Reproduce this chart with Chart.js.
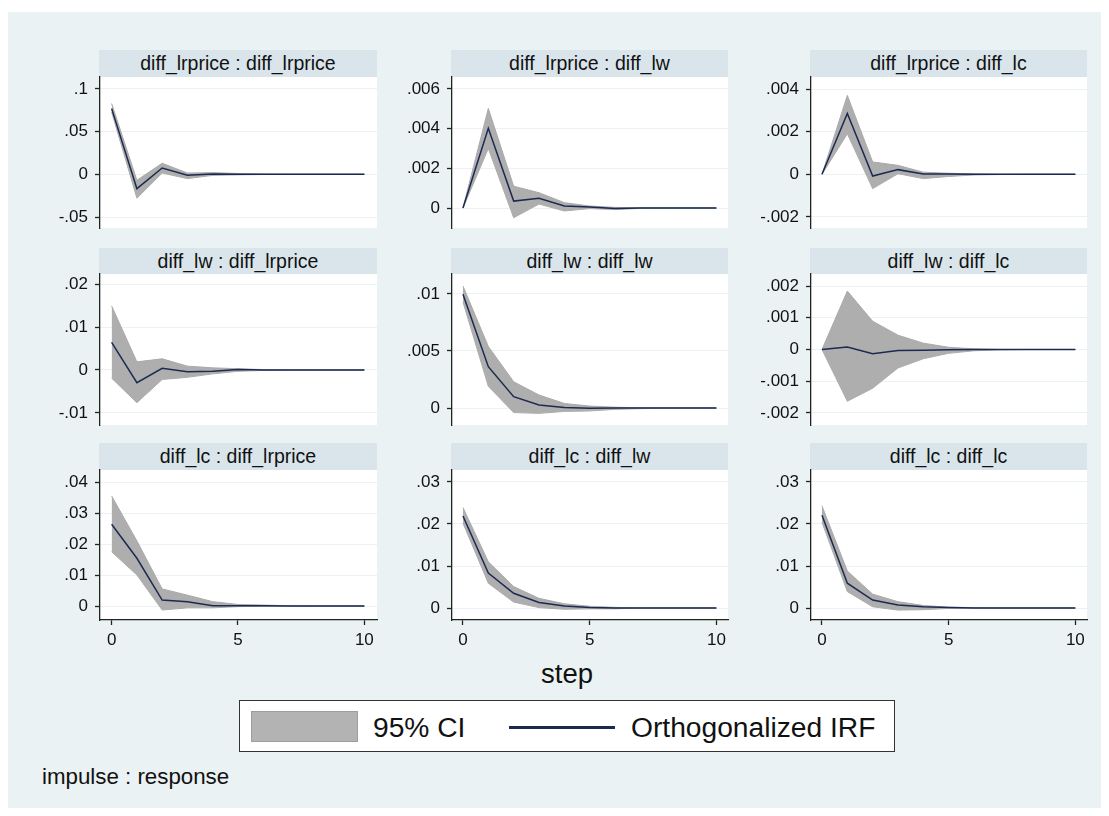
<!DOCTYPE html>
<html><head><meta charset="utf-8">
<script src="https://cdn.jsdelivr.net/npm/chart.js@4.4.1/dist/chart.umd.min.js"></script>
<style>
html,body{margin:0;padding:0;background:#fff;}
body{width:1109px;height:816px;position:relative;overflow:hidden;font-family:"Liberation Sans",Arial,sans-serif;color:#111;}
#bg{position:absolute;left:8px;top:12px;width:1093px;height:796px;background:#EAF2F3;}
.strip{position:absolute;background:#D9E5EA;color:#111;font-size:19.5px;text-align:center;white-space:nowrap;}
canvas{position:absolute;}
.txt{position:absolute;white-space:nowrap;}
#legend{position:absolute;left:239px;top:700px;width:654px;height:50px;background:#fff;border:1.5px solid #333;}
#swatch{position:absolute;left:251px;top:711px;width:105px;height:29px;background:#B3B3B3;border:1.5px solid #9E9E9E;}
#lline{position:absolute;left:509px;top:726px;width:106px;height:2.5px;background:#1B2A50;}
</style>
</head><body>
<div id="bg"></div>
<div id="legend"></div>
<div id="swatch"></div>
<div class="txt" style="left:373px;top:711px;font-size:28.2px;line-height:32px;">95% CI</div>
<div id="lline"></div>
<div class="txt" style="left:631px;top:711px;font-size:28.2px;line-height:32px;">Orthogonalized IRF</div>
<div class="txt" style="left:467px;width:200px;text-align:center;top:658px;font-size:27.5px;line-height:31px;">step</div>
<div class="txt" style="left:42px;top:764px;font-size:22.3px;line-height:25px;">impulse : response</div>
<script>
// ---------------- data ----------------
const steps = [0,1,2,3,4,5,6,7,8,9,10];
const titles = [
  "diff_lrprice : diff_lrprice", "diff_lrprice : diff_lw", "diff_lrprice : diff_lc",
  "diff_lw : diff_lrprice", "diff_lw : diff_lw", "diff_lw : diff_lc",
  "diff_lc : diff_lrprice", "diff_lc : diff_lw", "diff_lc : diff_lc"
];
const xTicks = [0,5,10];

const irf1 = [0.077, -0.0168, 0.0074, -0.001, 0.0005, 0.0002, 0.0001, 0, 0, 0, 0];
const lo1  = [0.073, -0.028, 0.0015, -0.005, -0.0012, -0.0006, -0.0002, 0, 0, 0, 0];
const hi1  = [0.083, -0.007, 0.013, 0.0015, 0.002, 0.0010, 0.0003, 0, 0, 0, 0];

const irf2 = [0, 0.00402, 0.00035, 0.00049, 0.0001, 0.00005, -0.00002, 0, 0, 0, 0];
const lo2  = [0, 0.0030, -0.00049, 0.0002, -0.00015, -0.00003, -0.00008, -0.00002, 0, 0, 0];
const hi2  = [0, 0.00502, 0.0011, 0.00077, 0.00027, 0.0001, 0.00003, 0.00001, 0, 0, 0];

const irf3 = [0, 0.00285, -0.00008, 0.00022, 0.00002, 0.00001, 0, 0, 0, 0, 0];
const lo3  = [0, 0.0019, -0.00067, 0.00003, -0.0002, -0.0001, -0.00003, -0.00001, 0, 0, 0];
const hi3  = [0, 0.0037, 0.00058, 0.00042, 0.0001, 0.00005, 0.00002, 0, 0, 0, 0];

const irf4 = [0.00644, -0.00295, 0.0004, -0.0004, -0.0003, 0.0001, 0, 0, 0, 0, 0];
const lo4  = [-0.0019, -0.0076, -0.0022, -0.0017, -0.0009, -0.0003, -0.0001, 0, 0, 0, 0];
const hi4  = [0.0149, 0.0019, 0.0026, 0.0009, 0.0005, 0.0003, 0.0001, 0, 0, 0, 0];

const irf5 = [0.00997, 0.00362, 0.00099, 0.00026, 0.00005, -0.00002, 0, 0, 0, 0, 0];
const lo5  = [0.0093, 0.0019, -0.0004, -0.00047, -0.0003, -0.00026, -0.00012, -0.00006, 0, 0, 0];
const hi5  = [0.0107, 0.0054, 0.0023, 0.00114, 0.0004, 0.00017, 0.00007, 0.00002, 0, 0, 0];

const irf6 = [0, 0.00008, -0.00013, -0.00003, -0.00002, -0.00001, 0, 0, 0, 0, 0];
const lo6  = [0, -0.00163, -0.00122, -0.00058, -0.00029, -0.00012, -0.00004, -0.00001, 0, 0, 0];
const hi6  = [0, 0.00184, 0.00089, 0.00045, 0.0002, 0.00007, 0.00002, 0, 0, 0, 0];

const irf7 = [0.02635, 0.0154, 0.0019, 0.0014, 0.0001, 0.0001, 0.00005, 0, 0, 0, 0];
const lo7  = [0.0175, 0.01, -0.0013, -0.0006, -0.0006, -0.0002, -0.0001, 0, 0, 0, 0];
const hi7  = [0.0355, 0.021, 0.0055, 0.0035, 0.0014, 0.0005, 0.0003, 0.0001, 0, 0, 0];

const irf8 = [0.0219, 0.0083, 0.0035, 0.0013, 0.0005, 0.0001, 0, 0, 0, 0, 0];
const lo8  = [0.0202, 0.0059, 0.0014, 0.0001, -0.0003, -0.0002, -0.0002, 0, 0, 0, 0];
const hi8  = [0.0239, 0.011, 0.0051, 0.0023, 0.001, 0.0004, 0.00015, 0, 0, 0, 0];

const irf9 = [0.0221, 0.0059, 0.0019, 0.0007, 0.0003, 0.0001, 0, 0, 0, 0, 0];
const lo9  = [0.0204, 0.0039, 0.0003, -0.0005, -0.0004, -0.0001, 0, 0, 0, 0, 0];
const hi9  = [0.0243, 0.0088, 0.0033, 0.0015, 0.0006, 0.0002, 0.0001, 0, 0, 0, 0];

const yTicks1 = [0.1, 0.05, 0, -0.05];
const yTicks2 = [0.006, 0.004, 0.002, 0];
const yTicks3 = [0.004, 0.002, 0, -0.002];
const yTicks4 = [0.02, 0.01, 0, -0.01];
const yTicks5 = [0.01, 0.005, 0];
const yTicks6 = [0.002, 0.001, 0, -0.001, -0.002];
const yTicks7 = [0.04, 0.03, 0.02, 0.01, 0];
const yTicks8 = [0.03, 0.02, 0.01, 0];
const yTicks9 = [0.03, 0.02, 0.01, 0];

const yRange1 = [-0.06289, 0.11406];
const yRange2 = [-0.001008, 0.006605];
const yRange3 = [-0.002516, 0.004563];
const yRange4 = [-0.012791, 0.022326];
const yRange5 = [-0.001491, 0.011754];
const yRange6 = [-0.002378, 0.002378];
const yRange7 = [-0.004516, 0.043871];
const yRange8 = [-0.002857, 0.032857];
const yRange9 = [-0.002857, 0.032857];

// ---------------- layout ----------------
const cols = [
  {left:100, right:377, xmin:-0.46, xmax:10.5},
  {left:452, right:728, xmin:-0.433, xmax:10.457},
  {left:811, right:1087, xmin:-0.434, xmax:10.46}
];
const rows = [
  {top:77, bottom:228, stripTop:50},
  {top:274, bottom:425, stripTop:248},
  {top:470, bottom:620, stripTop:443}
];

const panels = [
  [irf1, lo1, hi1, yTicks1, yRange1],
  [irf2, lo2, hi2, yTicks2, yRange2],
  [irf3, lo3, hi3, yTicks3, yRange3],
  [irf4, lo4, hi4, yTicks4, yRange4],
  [irf5, lo5, hi5, yTicks5, yRange5],
  [irf6, lo6, hi6, yTicks6, yRange6],
  [irf7, lo7, hi7, yTicks7, yRange7],
  [irf8, lo8, hi8, yTicks8, yRange8],
  [irf9, lo9, hi9, yTicks9, yRange9]
];

function stataFmt(v){
  if (Math.abs(v) < 1e-12) return "0";
  let s = String(Math.abs(+v.toPrecision(6)));
  if (s.startsWith("0.")) s = s.slice(1);
  return (v < 0 ? "-" : "") + s;
}

const plotBg = {
  id: 'plotBg',
  beforeDraw(chart){
    const {ctx, chartArea:a} = chart;
    ctx.save();
    ctx.fillStyle = '#ffffff';
    ctx.fillRect(a.left, a.top, a.right - a.left, a.bottom - a.top);
    ctx.restore();
  }
};

const YW = 60, PAD = 4, XH = 34;
const FONT = '"Liberation Sans", Arial, sans-serif';

panels.forEach((p, i) => {
  const [irf, lo, hi, yt, yr] = p;
  const r = rows[Math.floor(i / 3)], c = cols[i % 3];
  const bottomRow = Math.floor(i / 3) === 2;

  const strip = document.createElement('div');
  strip.className = 'strip';
  strip.style.left = (c.left - 1) + 'px';
  strip.style.top = r.stripTop + 'px';
  strip.style.width = (c.right - c.left + 1) + 'px';
  strip.style.height = (r.top - r.stripTop) + 'px';
  strip.style.lineHeight = (r.top - r.stripTop) + 'px';
  strip.textContent = titles[i];
  document.body.appendChild(strip);

  const cv = document.createElement('canvas');
  const w = (c.right - c.left) + YW + PAD;
  const h = (r.bottom - r.top) + 2 * PAD + (bottomRow ? XH : 0);
  cv.width = w; cv.height = h;
  cv.style.width = w + 'px'; cv.style.height = h + 'px';
  cv.style.left = (c.left - YW) + 'px';
  cv.style.top = (r.top - PAD) + 'px';
  document.body.appendChild(cv);

  new Chart(cv, {
    type: 'line',
    data: {
      datasets: [
        {label:'Orthogonalized IRF', data: steps.map((s, k) => ({x:s, y:irf[k]})),
         borderColor:'#1B2A50', borderWidth:1.5, pointRadius:0, tension:0, fill:false, order:0},
        {label:'95% CI upper', data: steps.map((s, k) => ({x:s, y:hi[k]})),
         borderColor:'#AAAAAA', borderWidth:1, backgroundColor:'#AEAEAE', pointRadius:0, tension:0, fill:'+1', order:1},
        {label:'95% CI lower', data: steps.map((s, k) => ({x:s, y:lo[k]})),
         borderColor:'#AAAAAA', borderWidth:1, pointRadius:0, tension:0, fill:false, order:2}
      ]
    },
    options: {
      responsive:false, animation:false, devicePixelRatio:1,
      layout:{padding:{left:0, right:PAD, top:PAD, bottom:PAD}},
      plugins:{legend:{display:false}, tooltip:{enabled:false}, title:{display:false}},
      scales:{
        x:{
          type:'linear', min:c.xmin, max:c.xmax, display:bottomRow,
          afterBuildTicks(s){ s.ticks = xTicks.map(v => ({value:v})); },
          afterFit(s){ if (bottomRow) s.height = XH; s.paddingLeft = 0; s.paddingRight = 0; },
          grid:{drawOnChartArea:false, drawTicks:true, tickLength:5, tickColor:'#222', tickWidth:1.3},
          border:{display:true, color:'#222', width:1.3},
          ticks:{color:'#111', font:{family:FONT, size:17}, padding:5, maxRotation:0, autoSkip:false,
                 callback:(v) => String(v)}
        },
        y:{
          type:'linear', min:yr[0], max:yr[1],
          afterBuildTicks(s){ s.ticks = yt.map(v => ({value:v})); },
          afterFit(s){ s.width = YW; s.paddingTop = 0; s.paddingBottom = 0; },
          grid:{color:'#EAF2F3', lineWidth:1, drawTicks:true, tickLength:5, tickColor:'#222', tickWidth:1.3},
          border:{display:true, color:'#222', width:1.3},
          ticks:{color:'#111', font:{family:FONT, size:17}, padding:7, autoSkip:false,
                 callback:(v) => stataFmt(v)}
        }
      }
    },
    plugins:[plotBg]
  });
});
</script>
</body></html>
